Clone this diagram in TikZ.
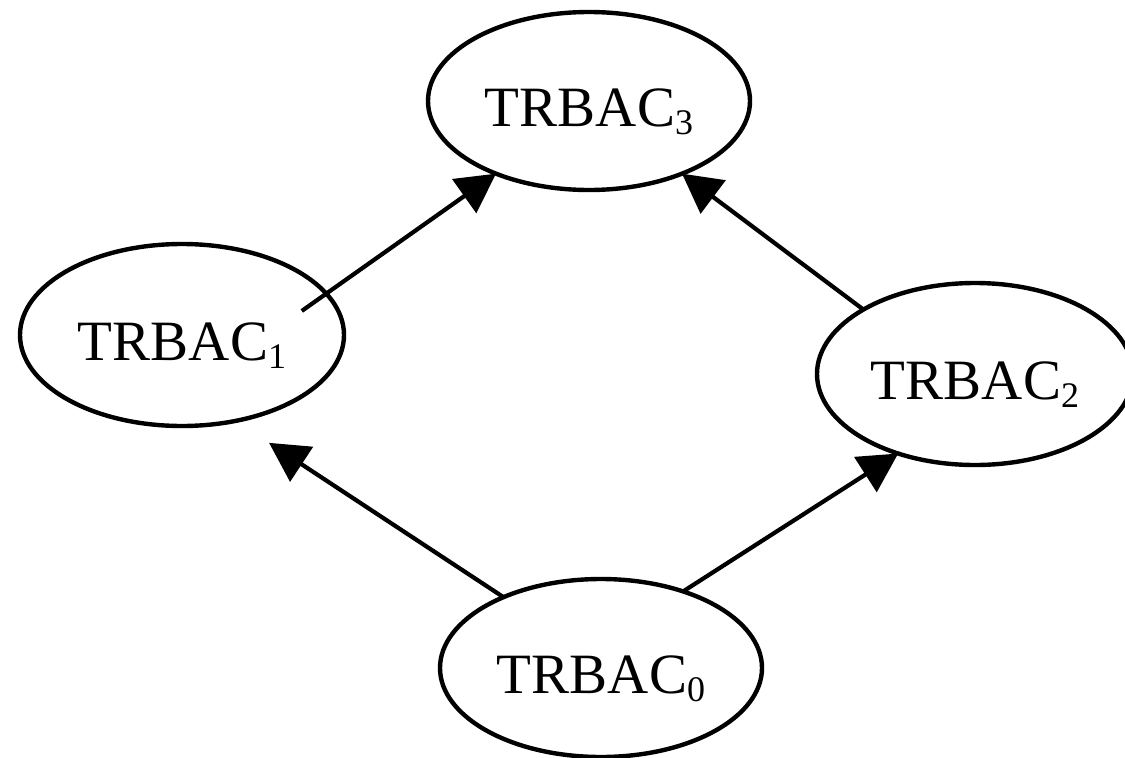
\documentclass[tikz,border=0pt]{standalone}
\usepackage{fontspec}
\setmainfont{Liberation Serif}
\usetikzlibrary{shapes.geometric,arrows.meta}
% lowered index digit after a model name
\newcommand\lowsub[1]{\raisebox{-8pt}{\fontsize{36}{36}\selectfont #1}}
\begin{document}
\begin{tikzpicture}[x=1pt,y=-1pt,
  model/.style={ellipse, draw, line width=4.4pt, outer sep=0pt, inner sep=0pt,
    minimum width=322pt, minimum height=178pt,
    font=\fontsize{57}{60}\selectfont, text height=60pt, text depth=8.5pt},
  link/.style={line width=4.2pt,
    -{Triangle[length=39pt,width=41pt]}}]
  \fill[white] (0,0) rectangle (1125,758);
  \useasboundingbox (0,0) rectangle (1125,758);

  \node[model] (t3) at (589,101) {TRBAC\lowsub{3}};
  \node[model, minimum width=324pt, minimum height=182pt] (t1) at (182,335) {TRBAC\lowsub{1}};
  \node[model, minimum width=316pt, minimum height=182pt] (t2) at (975,374) {TRBAC\lowsub{2}};
  \node[model] (t0) at (601,668) {TRBAC\lowsub{0}};

  \draw[link, shorten <=-30pt] (t1.16.9) -- (t3.218.6);
  \draw[link] (t2.150.1) -- (t3.-38.4);
  \draw[link, shorten >=40pt] (t0.144.9) -- (t1.-58.4);
  \draw[link] (t0.43.2) -- (t2.226.1);
\end{tikzpicture}
\end{document}
